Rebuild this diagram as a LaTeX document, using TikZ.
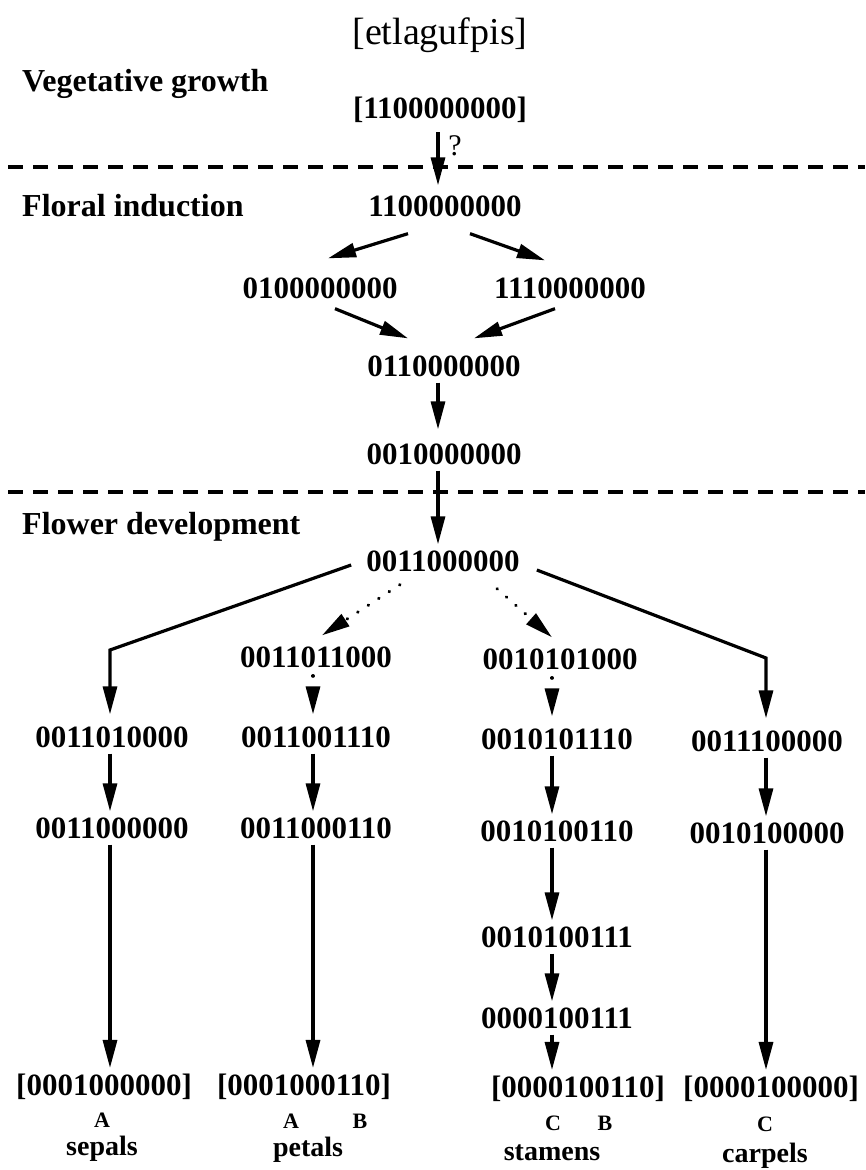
\documentclass[tikz,border=0pt]{standalone}
\usepackage{fontspec}
\setmainfont{Liberation Serif}
\usetikzlibrary{arrows.meta}
\begin{document}
\begin{tikzpicture}[x=1pt,y=-1pt,
  state/.style={font=\bfseries\fontsize{31}{34}\selectfont, inner sep=6pt},
  phase/.style={font=\bfseries\fontsize{32}{36}\selectfont, anchor=west, inner sep=0pt},
  organ/.style={font=\bfseries\fontsize{28}{32}\selectfont, inner sep=0pt},
  gene/.style={font=\bfseries\fontsize{22}{24}\selectfont, inner sep=0pt},
  titletext/.style={font=\fontsize{38}{42}\selectfont, inner sep=0pt},
  arr/.style={line width=3.2pt, -{Triangle[length=28pt,width=14pt]}},
  dotarr/.style={arr, line cap=round, dash pattern=on 0.5pt off 12pt},
  sepline/.style={line width=3.2pt, dash pattern=on 15pt off 10pt}]
\useasboundingbox (0,0) rectangle (865,1170);

% column guides
\coordinate (colM) at (438,0);
\coordinate (colA) at (110,0);
\coordinate (colB) at (313,0);
\coordinate (colC) at (552,0);
\coordinate (colD) at (766,0);

% title and phase labels
\node[titletext] (title) at (440,35) {[etlagufpis]};
\node[phase] (veg) at (22,84) {Vegetative growth};
\node[phase] (flo) at (22,206) {Floral induction};
\node[phase] (dev) at (22,527) {Flower development};

% phase separators
\coordinate (s1l) at (8,167);
\coordinate (s1r) at (865,167);
\coordinate (s2l) at (8,492);
\coordinate (s2r) at (865,492);
\draw[sepline] (s1l) -- (s1r);
\draw[sepline] (s2l) -- (s2r);

% states
\node[state] (v0) at (440,110) {[1100000000]};
\node[state] (n1) at (445,206) {1100000000};
\node[state] (n2) at (320,288) {0100000000};
\node[state] (n3) at (570,288) {1110000000};
\node[state] (n4) at (444,366) {0110000000};
\node[state] (n5) at (444,454) {0010000000};
\node[state] (n6) at (443,561) {0011000000};
\node[state] (b1) at (316,657) {0011011000};
\node[state] (c1) at (560,659) {0010101000};
\node[state] (a1) at (112,737) {0011010000};
\node[state] (b2) at (316,737) {0011001110};
\node[state] (c2) at (557,739) {0010101110};
\node[state] (d1) at (767,741) {0011100000};
\node[state] (a2) at (112,828) {0011000000};
\node[state] (b3) at (316,828) {0011000110};
\node[state] (c3) at (557,831) {0010100110};
\node[state] (d2) at (767,833) {0010100000};
\node[state] (c4) at (557,937) {0010100111};
\node[state] (c5) at (557,1018) {0000100111};
\node[state] (a3) at (104,1087) {[0001000000]};
\node[state] (b4) at (304,1087) {[0001000110]};
\node[state] (c6) at (578,1089) {[0000100110]};
\node[state] (d3) at (771,1089) {[0000100000]};

% genes and organs
\node[gene] (ga) at (102,1120) {A};
\node[gene] (gpa) at (291,1121) {A};
\node[gene] (gpb) at (360,1121) {B};
\node[gene] (gsc) at (553,1123) {C};
\node[gene] (gsb) at (605,1123) {B};
\node[gene] (gcc) at (765,1124) {C};
\node[organ] (sep) at (102,1149) {sepals};
\node[organ] (pet) at (308,1150) {petals};
\node[organ] (sta) at (552,1153) {stamens};
\node[organ] (car) at (765,1156) {carpels};

% vegetative to floral
\draw[arr] ([yshift=-3pt]v0.south -| colM) -- ([yshift=4pt]n1.north -| colM);
\node[font=\fontsize{30}{32}\selectfont, inner sep=0pt] (q) at (455,146) {?};

% floral induction
\draw[arr] ([shift={(-37,11)}]n1.south) -- ([shift={(8,-13)}]n2.north);
\draw[arr] ([shift={(25,11)}]n1.south) -- ([shift={(-25,-11)}]n3.north);
\draw[arr] ([shift={(15,4)}]n2.south) -- ([shift={(-36,-11)}]n4.north);
\draw[arr] ([shift={(-15,4)}]n3.south) -- ([shift={(30,-11)}]n4.north);
\draw[arr] (n4.south -| colM) -- ([yshift=8pt]n5.north -| colM);
\draw[arr] (n5.south -| colM) -- (n6.north -| colM);

% flower development branches
\coordinate (bendA) at (110,650);
\coordinate (bendD) at (766,658);
\draw[arr] ([shift={(-9,4)}]n6.west) -- (bendA) -- ([yshift=6pt]a1.north -| colA);
\draw[arr] ([shift={(11,9)}]n6.east) -- (bendD) -- ([yshift=6pt]d1.north -| colD);
\draw[dotarr] ([shift={(-43,7)}]n6.south) -- ([shift={(6,-5)}]b1.north);
\draw[dotarr] ([shift={(54,11)}]n6.south) -- ([shift={(-8,-5)}]c1.north);

% sepal lineage
\draw[arr] (a1.south -| colA) -- (a2.north -| colA);
\draw[arr] (a2.south -| colA) -- (a3.north -| colA);
% petal lineage
\draw[dotarr] ([yshift=-2pt]b1.south -| colB) -- ([yshift=6pt]b2.north -| colB);
\draw[arr] (b2.south -| colB) -- (b3.north -| colB);
\draw[arr] (b3.south -| colB) -- (b4.north -| colB);
% stamen lineage
\draw[dotarr] ([yshift=-2pt]c1.south -| colC) -- ([yshift=6pt]c2.north -| colC);
\draw[arr] (c2.south -| colC) -- (c3.north -| colC);
\draw[arr] (c3.south -| colC) -- (c4.north -| colC);
\draw[arr] (c4.south -| colC) -- (c5.north -| colC);
\draw[arr] (c5.south -| colC) -- (c6.north -| colC);
% carpel lineage
\draw[arr] (d1.south -| colD) -- (d2.north -| colD);
\draw[arr] (d2.south -| colD) -- (d3.north -| colD);
\end{tikzpicture}
\end{document}
